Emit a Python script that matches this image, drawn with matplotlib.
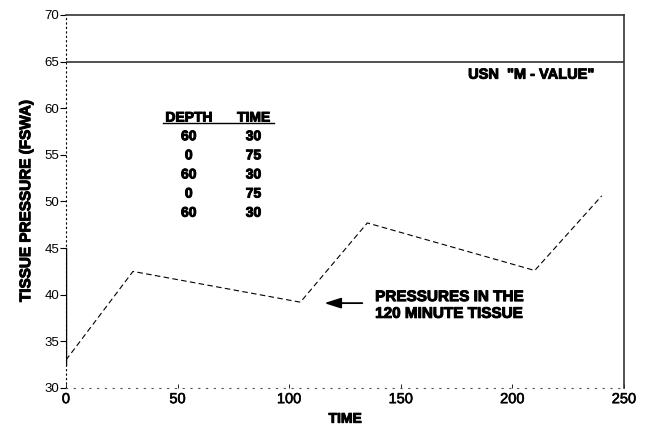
import matplotlib
matplotlib.use("Agg")
import matplotlib.pyplot as plt
import matplotlib.patheffects as pe

plt.rcParams['font.family'] = ['Liberation Sans', 'DejaVu Sans']

# dive profile and the 120 minute tissue pressure at each step
time_pts = [0, 30, 105, 135, 210, 240]
tissue_pressure = [33.0, 42.5, 39.2, 47.7, 42.6, 50.6]
m_value = 65

depths = ["60", "0", "60", "0", "60"]
times = ["30", "75", "30", "75", "30"]

xticks = [0, 50, 100, 150, 200, 250]
yticks = [30, 35, 40, 45, 50, 55, 60, 65, 70]

# heavy lettering
heavy = [pe.withStroke(linewidth=0.7, foreground='black')]

fig = plt.figure(figsize=(6.49, 4.32), dpi=100)
ax = fig.add_axes([0.1017, 0.1019, 0.8598, 0.8634])

ax.plot(time_pts, tissue_pressure, color='black', lw=0.8, ls=(0, (5, 3)))
ax.axhline(m_value, color='#333333', lw=1.2)

ax.set_xlim(0, 250)
ax.set_ylim(30, 70)
ax.set_xticks(xticks)
ax.set_yticks(yticks)
ax.tick_params(axis='y', direction='out', length=4, width=0.8, labelsize=9.5, pad=1)
ax.tick_params(axis='x', direction='in', length=3, width=0.6, labelsize=10.5, pad=3)
for lbl in ax.get_xticklabels():
    lbl.set_path_effects([pe.withStroke(linewidth=0.4, foreground='black')])

for s in ['top', 'right']:
    ax.spines[s].set_linewidth(1.2)
    ax.spines[s].set_color('#333333')
ax.spines['left'].set_linestyle((0, (1, 3)))
ax.spines['left'].set_linewidth(0.8)
ax.spines['bottom'].set_linestyle((0, (1, 6)))
ax.spines['bottom'].set_linewidth(0.8)
ax.spines['bottom'].set_color('#555555')
# solid part of the left axis near the start of the curve
ax.axvline(0, ymin=(32.5 - 30) / 40, ymax=(45 - 30) / 40, color='black', lw=1.0)

ax.set_ylabel('TISSUE PRESSURE (FSWA)', fontsize=11, fontweight='bold', labelpad=8,
              path_effects=heavy)
ax.set_xlabel('TIME', fontsize=10, fontweight='bold', labelpad=4, path_effects=heavy)

ax.text(237, 63.6, 'USN  "M - VALUE"', ha='right', va='center', fontsize=10.5,
        fontweight='bold', path_effects=heavy)

# depth/time schedule
col_depth, col_time = 55, 84
head_y, row_gap = 59.0, 2.05
for x, h in [(col_depth, 'DEPTH'), (col_time, 'TIME')]:
    ax.text(x, head_y, h, ha='center', va='center', fontsize=10, fontweight='bold',
            path_effects=heavy)
ax.plot([col_depth - 11.5, col_time + 9], [head_y - 0.6] * 2, color='black', lw=1.0)
for i, (d, t) in enumerate(zip(depths, times)):
    y = head_y - row_gap * (i + 1) + 0.05
    ax.text(col_depth, y, d, ha='center', va='center', fontsize=10, fontweight='bold',
            path_effects=heavy)
    ax.text(col_time, y, t, ha='center', va='center', fontsize=10, fontweight='bold',
            path_effects=heavy)

ax.annotate('', xy=(114.5, 39.1), xytext=(134, 39.1),
            arrowprops=dict(arrowstyle='-|>,head_length=1.0,head_width=0.32',
                            color='black', lw=1.3))
ax.text(138.5, 38.85, 'PRESSURES IN THE\n120 MINUTE TISSUE', ha='left', va='center',
        fontsize=11, fontweight='bold', linespacing=1.25, path_effects=heavy)

fig.savefig('out.png', dpi=100)
